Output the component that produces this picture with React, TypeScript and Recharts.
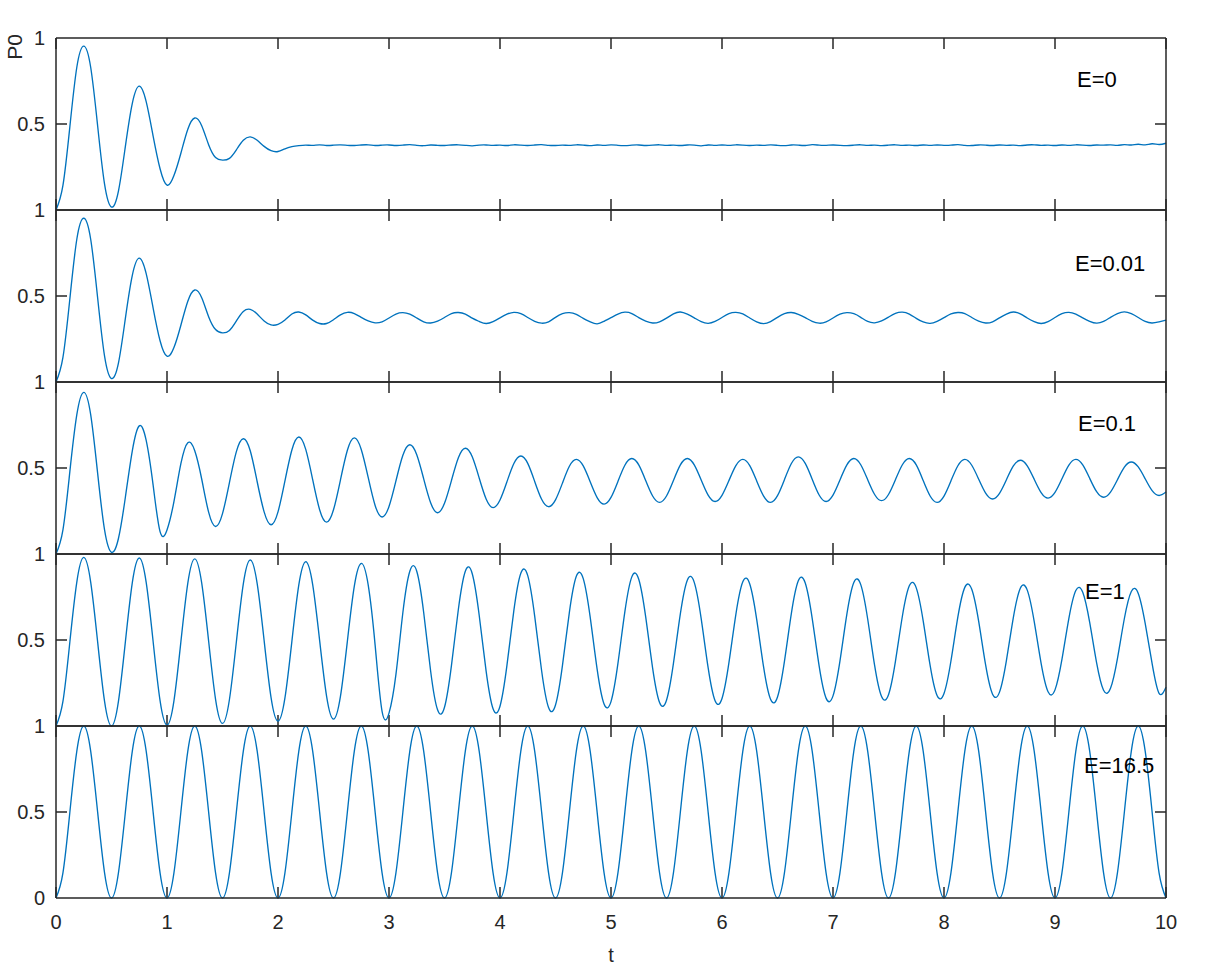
import React from 'react';
import { LineChart, Line, XAxis, YAxis, ReferenceLine } from 'recharts';

// sample spacing along t (8 samples per half-unit oscillation)
const STEP = 0.0625;

const T_TICKS = [0, 1, 2, 3, 4, 5, 6, 7, 8, 9, 10];
const P_TICKS = [0, 0.5, 1];
const PANEL_LABELS = ['E=0', 'E=0.01', 'E=0.1', 'E=1', 'E=16.5'];

// ─── P0(t), one array per E ─────────────────────────────
const pE0 = [
  0, 0.143, 0.485, 0.83, 0.953, 0.83, 0.49, 0.15,
  0.017, 0.11, 0.37, 0.62, 0.72, 0.63, 0.43, 0.24,
  0.145, 0.2, 0.33, 0.47, 0.535, 0.49, 0.38, 0.305,
  0.29, 0.3, 0.35, 0.405, 0.425, 0.405, 0.37, 0.345,
  0.34, 0.356, 0.368, 0.374, 0.377, 0.376, 0.379, 0.375,
  0.377, 0.379, 0.376, 0.375, 0.378, 0.379, 0.375, 0.377,
  0.378, 0.375, 0.377, 0.38, 0.376, 0.374, 0.378, 0.376,
  0.375, 0.378, 0.379, 0.376, 0.373, 0.377, 0.378, 0.376,
  0.377, 0.375, 0.379, 0.377, 0.375, 0.378, 0.38, 0.376,
  0.375, 0.377, 0.376, 0.379, 0.377, 0.374, 0.378, 0.376,
  0.379, 0.376, 0.374, 0.377, 0.378, 0.375, 0.377, 0.379,
  0.376, 0.377, 0.375, 0.378, 0.377, 0.373, 0.378, 0.376,
  0.378, 0.376, 0.379, 0.377, 0.375, 0.377, 0.376, 0.379,
  0.376, 0.374, 0.378, 0.377, 0.375, 0.38, 0.377, 0.376,
  0.378, 0.376, 0.374, 0.377, 0.379, 0.376, 0.377, 0.374,
  0.377, 0.379, 0.376, 0.377, 0.375, 0.378, 0.376, 0.378,
  0.376, 0.377, 0.38, 0.376, 0.375, 0.378, 0.377, 0.375,
  0.378, 0.376, 0.377, 0.374, 0.378, 0.379, 0.376, 0.377,
  0.375, 0.378, 0.376, 0.379, 0.377, 0.375, 0.378, 0.377,
  0.379, 0.376, 0.38, 0.378, 0.382, 0.379, 0.385, 0.381,
  0.388,
];

const pE001 = [
  0, 0.143, 0.485, 0.83, 0.952, 0.83, 0.49, 0.15,
  0.02, 0.11, 0.37, 0.62, 0.72, 0.63, 0.43, 0.24,
  0.15, 0.2, 0.33, 0.47, 0.535, 0.49, 0.38, 0.305,
  0.286, 0.3, 0.355, 0.41, 0.422, 0.395, 0.355, 0.332,
  0.335, 0.36, 0.395, 0.407, 0.39, 0.36, 0.34, 0.34,
  0.362, 0.39, 0.405, 0.398, 0.376, 0.355, 0.344, 0.35,
  0.372, 0.395, 0.403, 0.394, 0.372, 0.35, 0.343, 0.354,
  0.375, 0.398, 0.404, 0.395, 0.371, 0.352, 0.34, 0.351,
  0.373, 0.394, 0.405, 0.397, 0.375, 0.353, 0.342, 0.35,
  0.376, 0.397, 0.403, 0.393, 0.37, 0.35, 0.338, 0.353,
  0.374, 0.395, 0.406, 0.398, 0.374, 0.354, 0.343, 0.35,
  0.371, 0.396, 0.407, 0.394, 0.373, 0.351, 0.341, 0.352,
  0.375, 0.398, 0.405, 0.396, 0.372, 0.35, 0.339, 0.351,
  0.376, 0.397, 0.404, 0.393, 0.374, 0.353, 0.342, 0.349,
  0.372, 0.394, 0.403, 0.397, 0.376, 0.352, 0.344, 0.355,
  0.377, 0.399, 0.406, 0.395, 0.37, 0.349, 0.341, 0.353,
  0.374, 0.396, 0.404, 0.398, 0.375, 0.354, 0.343, 0.35,
  0.373, 0.395, 0.407, 0.396, 0.372, 0.351, 0.34, 0.351,
  0.375, 0.397, 0.405, 0.394, 0.373, 0.353, 0.342, 0.352,
  0.376, 0.398, 0.408, 0.397, 0.375, 0.352, 0.343, 0.35,
  0.36,
];

const pE01 = [
  0, 0.14, 0.48, 0.81, 0.94, 0.81, 0.47, 0.14,
  0.01, 0.09, 0.33, 0.6, 0.745, 0.66, 0.4, 0.13,
  0.14, 0.305, 0.525, 0.647, 0.6, 0.436, 0.243, 0.16,
  0.235, 0.415, 0.595, 0.67, 0.6, 0.42, 0.245, 0.17,
  0.245, 0.425, 0.605, 0.68, 0.608, 0.432, 0.257, 0.185,
  0.257, 0.43, 0.603, 0.675, 0.608, 0.445, 0.282, 0.215,
  0.276, 0.425, 0.574, 0.635, 0.577, 0.437, 0.298, 0.24,
  0.295, 0.427, 0.56, 0.615, 0.565, 0.442, 0.32, 0.27,
  0.314, 0.42, 0.526, 0.57, 0.527, 0.422, 0.318, 0.275,
  0.315, 0.412, 0.51, 0.55, 0.512, 0.42, 0.328, 0.29,
  0.329, 0.422, 0.516, 0.555, 0.518, 0.427, 0.337, 0.3,
  0.337, 0.427, 0.518, 0.555, 0.518, 0.43, 0.342, 0.305,
  0.341, 0.427, 0.514, 0.55, 0.514, 0.425, 0.337, 0.3,
  0.339, 0.432, 0.526, 0.565, 0.527, 0.435, 0.343, 0.305,
  0.342, 0.43, 0.518, 0.555, 0.519, 0.432, 0.346, 0.31,
  0.346, 0.432, 0.519, 0.555, 0.518, 0.427, 0.337, 0.3,
  0.337, 0.425, 0.513, 0.55, 0.516, 0.435, 0.354, 0.32,
  0.353, 0.432, 0.512, 0.545, 0.513, 0.435, 0.357, 0.325,
  0.358, 0.437, 0.517, 0.55, 0.518, 0.44, 0.362, 0.33,
  0.36, 0.432, 0.505, 0.535, 0.506, 0.437, 0.368, 0.34,
  0.36,
];

const pE1 = [
  0, 0.143, 0.49, 0.837, 0.98, 0.837, 0.49, 0.143,
  0, 0.143, 0.489, 0.834, 0.977, 0.835, 0.491, 0.147,
  0.005, 0.146, 0.489, 0.831, 0.972, 0.832, 0.494, 0.155,
  0.015, 0.154, 0.49, 0.826, 0.965, 0.828, 0.497, 0.165,
  0.028, 0.163, 0.492, 0.82, 0.955, 0.822, 0.498, 0.174,
  0.04, 0.172, 0.493, 0.813, 0.945, 0.82, 0.47, 0.085,
  0.075, 0.3, 0.66, 0.9, 0.9, 0.66, 0.32, 0.094,
  0.109, 0.351, 0.679, 0.9, 0.885, 0.644, 0.319, 0.1,
  0.115, 0.352, 0.672, 0.888, 0.874, 0.639, 0.321, 0.107,
  0.122, 0.351, 0.661, 0.87, 0.857, 0.633, 0.331, 0.128,
  0.142, 0.364, 0.665, 0.867, 0.853, 0.634, 0.337, 0.137,
  0.15, 0.364, 0.653, 0.848, 0.835, 0.624, 0.339, 0.147,
  0.16, 0.368, 0.649, 0.838, 0.826, 0.62, 0.342, 0.155,
  0.169, 0.376, 0.655, 0.844, 0.831, 0.626, 0.349, 0.162,
  0.175, 0.377, 0.65, 0.834, 0.822, 0.622, 0.352, 0.171,
  0.182, 0.376, 0.638, 0.815, 0.803, 0.611, 0.352, 0.177,
  0.189, 0.378, 0.634, 0.806, 0.795, 0.608, 0.355, 0.185,
  0.197, 0.382, 0.632, 0.801, 0.79, 0.608, 0.364, 0.199,
  0.21, 0.387, 0.626, 0.788, 0.777, 0.602, 0.367, 0.208,
  0.219, 0.392, 0.625, 0.782, 0.771, 0.597, 0.362, 0.19,
  0.225,
];

const pE165 = [
  0, 0.146, 0.5, 0.854, 1, 0.854, 0.5, 0.146,
  0, 0.146, 0.5, 0.854, 1, 0.854, 0.5, 0.146,
  0, 0.146, 0.5, 0.854, 1, 0.854, 0.5, 0.146,
  0, 0.146, 0.5, 0.854, 1, 0.854, 0.5, 0.146,
  0, 0.146, 0.5, 0.854, 1, 0.854, 0.5, 0.146,
  0, 0.146, 0.5, 0.854, 1, 0.854, 0.5, 0.146,
  0, 0.146, 0.5, 0.854, 1, 0.854, 0.5, 0.146,
  0, 0.146, 0.5, 0.854, 1, 0.854, 0.5, 0.146,
  0, 0.146, 0.5, 0.854, 1, 0.854, 0.5, 0.146,
  0, 0.146, 0.5, 0.854, 1, 0.854, 0.5, 0.146,
  0, 0.146, 0.5, 0.854, 1, 0.854, 0.5, 0.146,
  0, 0.146, 0.5, 0.854, 1, 0.854, 0.5, 0.146,
  0, 0.146, 0.5, 0.854, 1, 0.854, 0.5, 0.146,
  0, 0.146, 0.5, 0.854, 1, 0.854, 0.5, 0.146,
  0, 0.146, 0.5, 0.854, 1, 0.854, 0.5, 0.146,
  0, 0.146, 0.5, 0.854, 1, 0.854, 0.5, 0.146,
  0, 0.146, 0.5, 0.854, 1, 0.854, 0.5, 0.146,
  0, 0.146, 0.5, 0.854, 1, 0.854, 0.5, 0.146,
  0, 0.146, 0.5, 0.854, 1, 0.854, 0.5, 0.146,
  0, 0.146, 0.5, 0.854, 1, 0.854, 0.5, 0.146,
  0,
];

const SERIES = [pE0, pE001, pE01, pE1, pE165];

// ─── Layout ──────────────────────────────────────────────
const W = 1207;
const PANEL_TOP = [38, 210, 382, 554, 726];
const PANEL_H = 172;
const PLOT_W = 1110;
const TICK_PX = 11;
const LABEL_POS = [
  { left: 1077, top: 69 },
  { left: 1075, top: 253 },
  { left: 1078, top: 413 },
  { left: 1085, top: 581 },
  { left: 1084, top: 755 },
];

const AXIS = '#262626';
const LINE = '#0072BD';
const FONT = '"Liberation Sans", Arial, Helvetica, sans-serif';
const axisLine = { stroke: AXIS, strokeWidth: 1.5 };

// inward tick length in data units
const TX = (TICK_PX / PLOT_W) * 10;
const TY = TICK_PX / PANEL_H;

function Panel({ values, idx }: { values: number[]; idx: number }) {
  const last = idx === SERIES.length - 1;
  const padTop = 20;
  const padBottom = last ? 71 : 20;
  const data = values.map((p, i) => ({ t: i * STEP, p }));
  const tickStyle = { fill: AXIS, fontSize: 20, fontFamily: FONT };
  const ids = { xAxisId: 'bottom', yAxisId: 'left' };

  return (
    <div style={{ position: 'absolute', left: 0, top: PANEL_TOP[idx] - padTop }}>
      <LineChart
        width={W}
        height={padTop + PANEL_H + padBottom}
        data={data}
        margin={{ top: 0, right: 0, bottom: 0, left: 0 }}
      >
        <XAxis
          xAxisId="top"
          orientation="top"
          dataKey="t"
          type="number"
          domain={[0, 10]}
          ticks={T_TICKS}
          height={padTop}
          tick={false}
          tickLine={false}
          axisLine={axisLine}
        />
        <XAxis
          xAxisId="bottom"
          orientation="bottom"
          dataKey="t"
          type="number"
          domain={[0, 10]}
          ticks={T_TICKS}
          height={padBottom}
          tick={last ? tickStyle : false}
          tickSize={-11}
          tickMargin={28}
          tickLine={false}
          axisLine={axisLine}
        />
        <YAxis
          yAxisId="left"
          orientation="left"
          dataKey="p"
          type="number"
          domain={[0, 1]}
          ticks={P_TICKS}
          width={56}
          tickSize={-11}
          tickMargin={22}
          tick={tickStyle}
          tickFormatter={(v: number) => (v === 0 && !last ? '' : String(v))}
          tickLine={false}
          axisLine={axisLine}
        />
        <YAxis
          yAxisId="right"
          orientation="right"
          dataKey="p"
          type="number"
          domain={[0, 1]}
          ticks={P_TICKS}
          width={41}
          tick={false}
          tickLine={false}
          axisLine={axisLine}
        />

        {/* inward tick marks, top and bottom */}
        {T_TICKS.map((t) => (
          <ReferenceLine
            key={`b${t}`}
            {...ids}
            segment={[{ x: t, y: 0 }, { x: t, y: TY }]}
            stroke={AXIS}
            strokeWidth={1.5}
          />
        ))}
        {T_TICKS.map((t) => (
          <ReferenceLine
            key={`t${t}`}
            {...ids}
            segment={[{ x: t, y: 1 }, { x: t, y: 1 - TY }]}
            stroke={AXIS}
            strokeWidth={1.5}
          />
        ))}
        {/* inward tick marks, left and right */}
        <ReferenceLine {...ids} segment={[{ x: 0, y: 0.5 }, { x: TX, y: 0.5 }]} stroke={AXIS} strokeWidth={1.5} />
        <ReferenceLine {...ids} segment={[{ x: 10 - TX, y: 0.5 }, { x: 10, y: 0.5 }]} stroke={AXIS} strokeWidth={1.5} />

        <Line
          {...ids}
          dataKey="p"
          type="natural"
          stroke={LINE}
          strokeWidth={1.35}
          dot={false}
          isAnimationActive={false}
        />
      </LineChart>
    </div>
  );
}

export default function App() {
  return (
    <div
      style={{
        position: 'absolute',
        left: 0,
        top: 0,
        width: W,
        height: 969,
        background: '#fff',
        fontFamily: FONT,
      }}
    >
      {SERIES.map((values, i) => (
        <Panel key={PANEL_LABELS[i]} values={values} idx={i} />
      ))}

      {/* E labels */}
      {PANEL_LABELS.map((label, i) => (
        <div
          key={label}
          style={{
            position: 'absolute',
            left: LABEL_POS[i].left,
            top: LABEL_POS[i].top,
            fontSize: 22,
            lineHeight: 1,
            color: '#000',
            whiteSpace: 'nowrap',
          }}
        >
          {label}
        </div>
      ))}

      {/* axis titles */}
      <div
        style={{
          position: 'absolute',
          left: 14,
          top: 47,
          fontSize: 21,
          lineHeight: 1,
          color: AXIS,
          transform: 'translate(-50%, -50%) rotate(-90deg)',
          whiteSpace: 'nowrap',
        }}
      >
        P0
      </div>
      <div
        style={{
          position: 'absolute',
          left: 611,
          top: 945,
          fontSize: 20,
          lineHeight: 1,
          color: AXIS,
          transform: 'translateX(-50%)',
        }}
      >
        t
      </div>
    </div>
  );
}
